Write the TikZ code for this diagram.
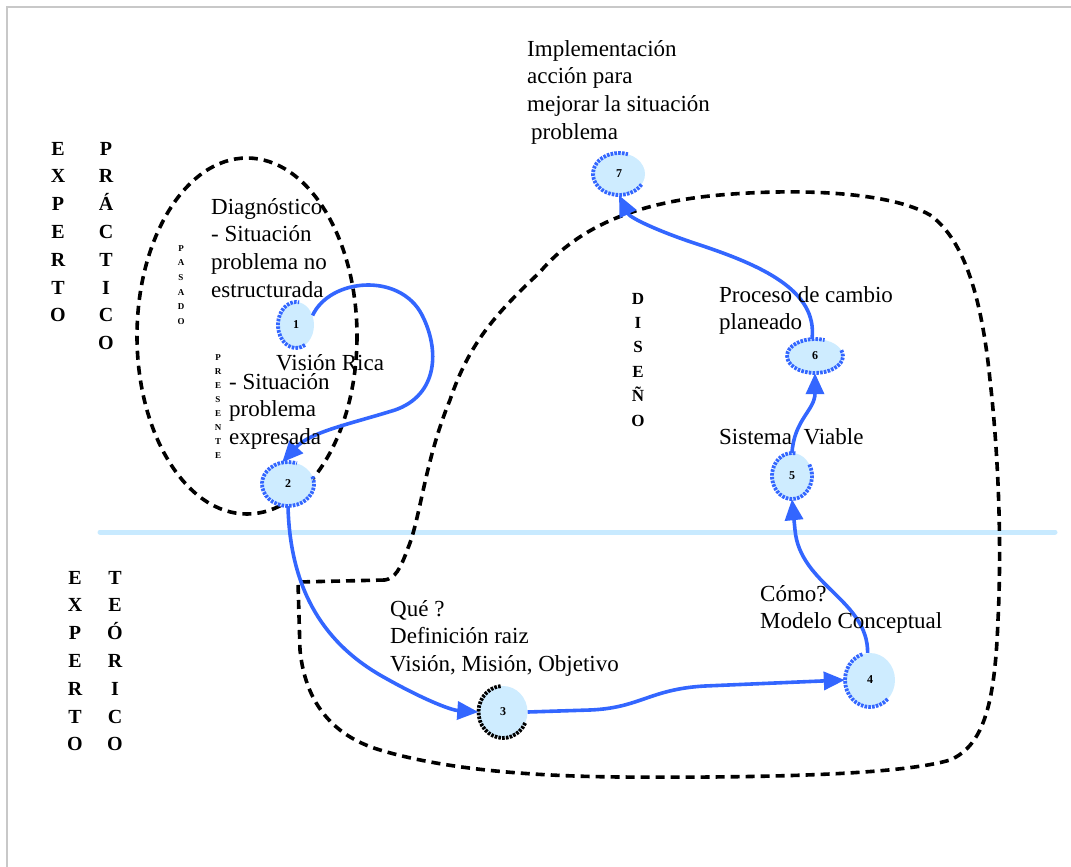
\documentclass[tikz,border=0pt]{standalone}
\usepackage{fontspec}
\setmainfont{Liberation Serif}
\usetikzlibrary{arrows.meta,shapes.geometric,calc}
\definecolor{flow}{RGB}{51,102,255}
\definecolor{pale}{RGB}{206,236,255}
\definecolor{divide}{RGB}{200,234,255}
\definecolor{frame}{RGB}{200,200,200}

\tikzset{
  stage/.style={ellipse, fill=pale, inner sep=0pt, font=\bfseries\fontsize{12}{12}\selectfont},
  rim/.style={flow, line width=3.8pt, dash pattern=on 2.6pt off 1.2pt},
  flowline/.style={flow, line width=3.6pt, -{Triangle[length=21pt,width=18pt]}},
  zone/.style={black, line width=3.6pt, dash pattern=on 9pt off 6pt},
  label/.style={anchor=base west, inner sep=0pt, align=left, font=\fontsize{23}{27.8}\selectfont},
  column/.style={anchor=base, inner sep=0pt, align=center, font=\bfseries\fontsize{20}{27.8}\selectfont},
  tinycol/.style={anchor=base, inner sep=0pt, align=center, font=\bfseries\fontsize{9}{14.4}\selectfont}
}

\begin{document}
\begin{tikzpicture}[x=1pt,y=-1pt]
\useasboundingbox (0,0) rectangle (1071,867);

% page frame
\draw[frame, line width=2pt] (7,867) -- (7,7) -- (1071,7);

% divider between practical and theoretical level
\draw[divide, line width=5pt, line cap=round] (100,532) -- (1055,532);

% dashed regions
\draw[zone] (247,336) ellipse[x radius=110, y radius=178];
\draw[zone] (385,580) -- (298,582) -- (300,650)
  .. controls (305,700) and (330,735) .. (380,750)
  .. controls (440,768) and (520,776) .. (620,777)
  .. controls (760,778) and (900,775) .. (950,760)
  .. controls (985,745) and (995,700) .. (998,620)
  .. controls (1002,540) and (998,450) .. (990,380)
  .. controls (982,300) and (965,240) .. (930,215)
  .. controls (890,192) and (800,188) .. (720,195)
  .. controls (640,202) and (580,225) .. (540,272)
  .. controls (500,310) and (470,340) .. (450,400)
  .. controls (425,460) and (420,520) .. (408,548)
  .. controls (400,570) and (395,578) .. (385,580);

% stages
\node[stage, minimum width=36pt, minimum height=46pt] (n1) at (296,325) {1};
\node[stage, minimum width=52pt, minimum height=44pt] (n2) at (288,484) {2};
\node[stage, minimum width=49pt, minimum height=52pt] (n3) at (503,712) {3};
\node[stage, minimum width=50pt, minimum height=54pt] (n4) at (870,680) {4};
\node[stage, minimum width=40pt, minimum height=46pt] (n5) at (792,476) {5};
\node[stage, minimum width=56pt, minimum height=34pt] (n6) at (815,356) {6};
\node[stage, minimum width=52pt, minimum height=42pt] (n7) at (619,174) {7};

% rough outlines of the stages
\draw[rim] ([shift={(60:18 and 23)}]n1.center) arc[start angle=60, end angle=280, x radius=18, y radius=23];
\draw[rim] ([shift={(-20:26 and 22)}]n2.center) arc[start angle=-20, end angle=290, x radius=26, y radius=22];
\draw[rim, black] ([shift={(25:24.5 and 26)}]n3.center) arc[start angle=25, end angle=265, x radius=24.5, y radius=26];
\draw[rim] ([shift={(45:25 and 27)}]n4.center) arc[start angle=45, end angle=255, x radius=25, y radius=27];
\draw[rim] ([shift={(-30:20 and 23)}]n5.center) arc[start angle=-30, end angle=280, x radius=20, y radius=23];
\draw[rim] ([shift={(-20:28 and 17)}]n6.center) arc[start angle=-20, end angle=290, x radius=28, y radius=17];
\draw[rim] ([shift={(30:26 and 21)}]n7.center) arc[start angle=30, end angle=290, x radius=26, y radius=21];

% flow of the methodology
\draw[flowline] (n1.30) .. controls (330,278) and (400,272) .. (422,315)
  .. controls (440,350) and (438,395) .. (395,410)
  .. controls (350,424) and (310,432) .. (n2.105);
\draw[flowline] (n2.south) .. controls (290,585) and (320,640) .. (380,675)
  .. controls (420,698) and (450,710) .. (n3.west);
\draw[flowline] (n3.east) -- (590,710)
  .. controls (640,708) and (650,689) .. (705,686) -- (n4.west);
\draw[flowline] (n4.95) .. controls (868,600) and (800,585) .. (795,530) -- (n5.south);
\draw[flowline] (n5.north) .. controls (794,420) and (815,410) .. (n6.south);
\draw[flowline] (n6.100) .. controls (818,290) and (760,265) .. (700,245)
  .. controls (660,232) and (630,218) .. (n7.south);

% texts (anchored at the baseline of their last line)
\node[label] (t7) at (527,139.4) {Implementación\\acción para\\mejorar la situación\\\hspace*{4pt}problema};
\node[label] (tdiag) at (211,297.4) {Diagnóstico\\- Situación\\problema no\\estructurada};
\node[label] (trica) at (276,370) {Visión Rica};
\node[label] (texp) at (229,444.6) {- Situación\\problema\\expresada};
\node[label] (t6) at (719,329.8) {Proceso de cambio\\planeado};
\node[label] (t5) at (719,444) {Sistema\ \ Viable};
\node[label] (t4) at (760,628.8) {Cómo?\\Modelo Conceptual};
\node[label] (t3) at (390,671.6) {Qué ?\\Definición raiz\\Visión, Misión, Objetivo};

% vertical captions
\node[column] (ep1) at (58,321.8) {E\\X\\P\\E\\R\\T\\O};
\node[column] (ep2) at (106,349.6) {P\\R\\Á\\C\\T\\I\\C\\O};
\node[column] (et1) at (75,750.8) {E\\X\\P\\E\\R\\T\\O};
\node[column] (et2) at (115,750.8) {T\\E\\Ó\\R\\I\\C\\O};
\node[column, font=\bfseries\fontsize{17}{24.4}\selectfont] (dis) at (638,426) {D\\I\\S\\E\\Ñ\\O};
\node[tinycol, font=\bfseries\fontsize{9}{14.7}\selectfont] (pas) at (181,324.5) {P\\A\\S\\A\\D\\O};
\node[tinycol, font=\bfseries\fontsize{9}{14.1}\selectfont] (pre) at (218,458.7) {P\\R\\E\\S\\E\\N\\T\\E};
\end{tikzpicture}
\end{document}
